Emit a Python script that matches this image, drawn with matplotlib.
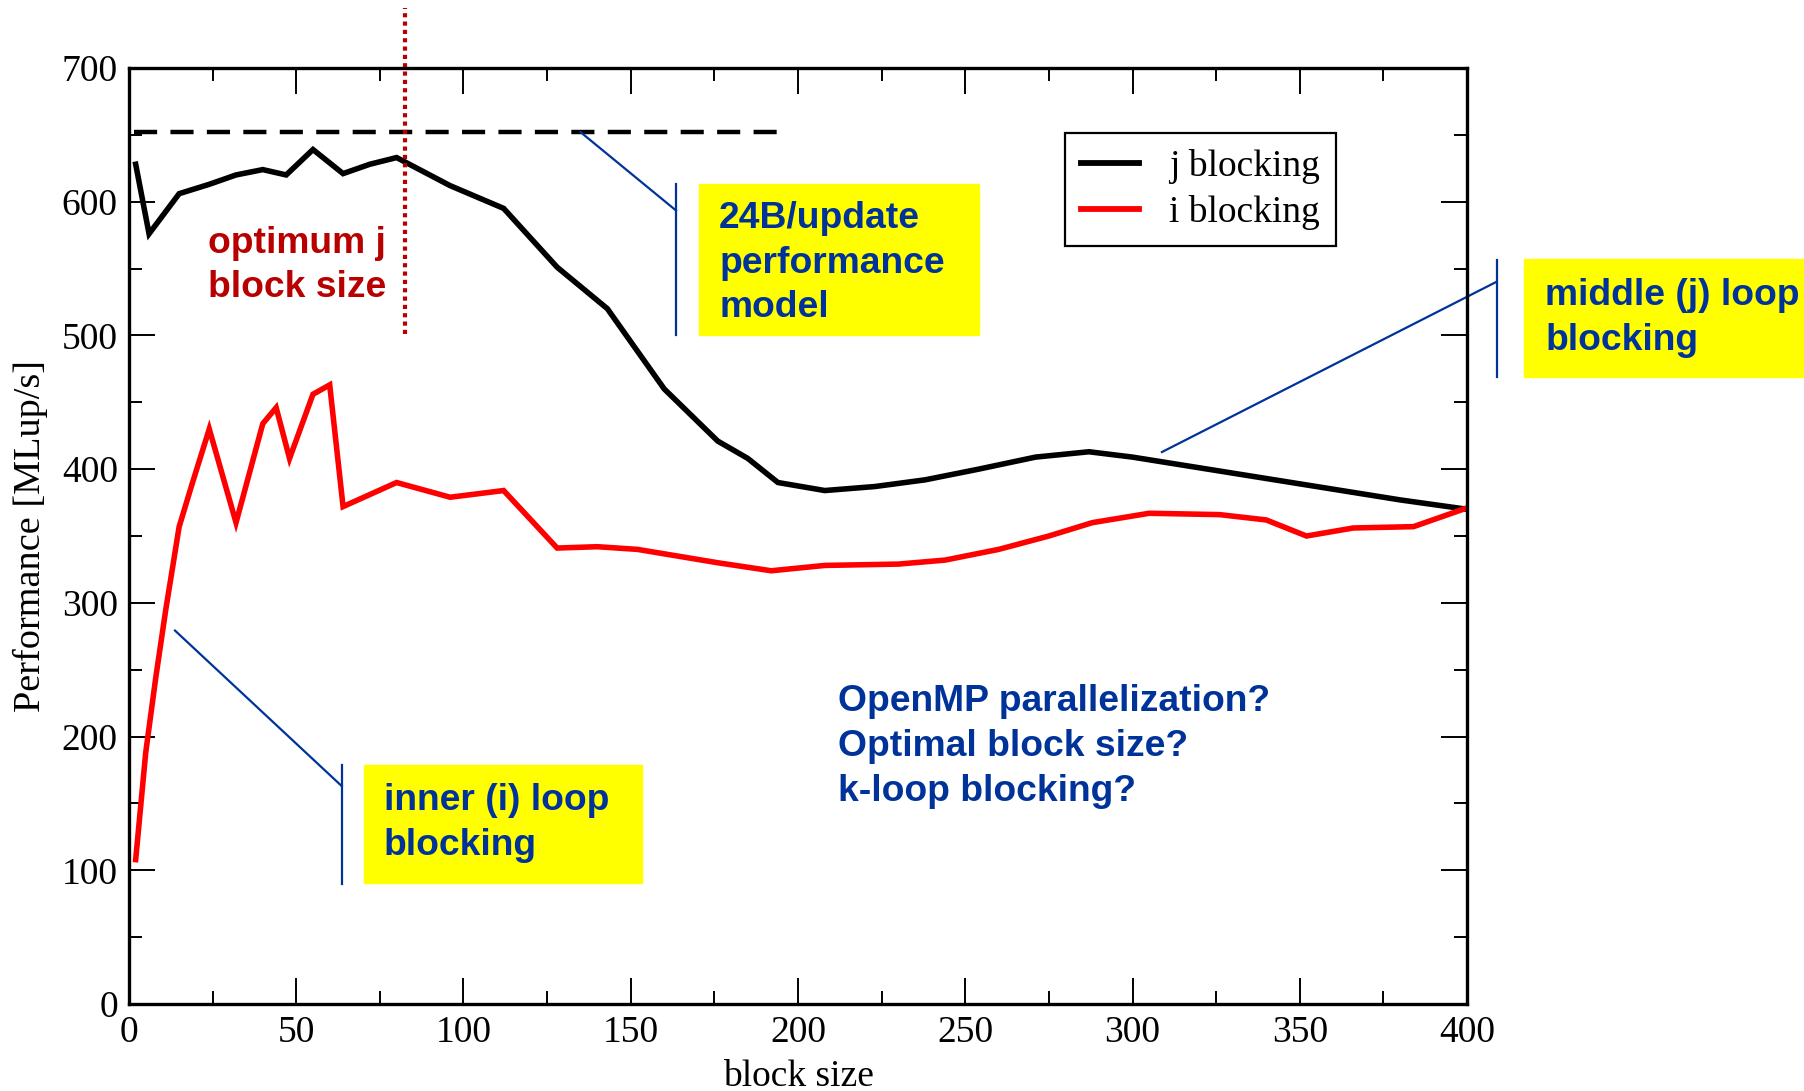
import matplotlib.pyplot as plt
from matplotlib.patches import Rectangle

# block size sweep
j_size = [2, 6, 15, 24, 32, 40, 47, 55, 64, 72, 80, 96, 112, 128, 143, 160,
          176, 185, 194, 208, 223, 238, 254, 271, 287, 300, 320, 340, 360, 380, 400]
j_perf = [628, 576, 606, 613, 620, 624, 620, 639, 621, 628, 633, 612, 595, 551, 520, 460,
          421, 408, 390, 384, 387, 392, 400, 409, 413, 409, 401, 393, 385, 377, 370]

i_size = [2, 5, 8, 11, 15, 19, 24, 32, 40, 44, 48, 55, 60, 64, 80, 96, 112, 128, 140,
          152, 176, 192, 208, 230, 244, 260, 275, 288, 305, 326, 340, 352, 366, 384, 400]
i_perf = [108, 188, 244, 295, 357, 390, 430, 360, 434, 446, 408, 456, 463, 372, 390, 379,
          384, 341, 342, 340, 330, 324, 328, 329, 332, 340, 350, 360, 367, 366, 362, 350,
          356, 357, 371]

model_perf = 652      # 24B/update model
model_span = [1.5, 196]
optimum_j = 82.5

x_ticks = [0, 50, 100, 150, 200, 250, 300, 350, 400]
y_ticks = [0, 100, 200, 300, 400, 500, 600, 700]

BLUE = "#003399"
DARKRED = "#B80000"
YELLOW = "#FFFF00"
SANS = ["Liberation Sans", "DejaVu Sans"]
SERIF = ["Liberation Serif", "DejaVu Serif"]
FS = 26.8
LS = 1.36

fig = plt.figure(figsize=(18.04, 10.91), dpi=100)
ax = fig.add_axes([0.0715, 0.0797, 0.7417, 0.858])

ax.plot(j_size, j_perf, color="black", lw=4.0, label="j blocking", solid_joinstyle="miter")
ax.plot(i_size, i_perf, color="red", lw=4.0, label="i blocking", solid_joinstyle="miter")

ax.plot(model_span, [model_perf, model_perf], color="black", lw=3.2, dashes=(5.2, 3.0))
ax.plot([optimum_j, optimum_j], [501, 745], color=DARKRED, lw=3.0, ls=(0, (1, 1)),
        clip_on=False)

ax.set_xlim(0, 400)
ax.set_ylim(0, 700)
ax.set_xticks(x_ticks)
ax.set_yticks(y_ticks)
ax.set_xticks(range(25, 400, 50), minor=True)
ax.set_yticks(range(50, 700, 100), minor=True)
ax.tick_params(which="both", direction="in", top=True, right=True, width=1.4)
ax.tick_params(which="major", length=18.5, pad=8)
ax.tick_params(which="minor", length=9.5)
for lab in ax.get_xticklabels() + ax.get_yticklabels():
    lab.set_family(SERIF)
    lab.set_fontsize(27)
for s in ax.spines.values():
    s.set_linewidth(2.4)

ax.set_xlabel("block size", family=SERIF, fontsize=27, labelpad=7)
ax.set_ylabel("Performance [MLup/s]", family=SERIF, fontsize=27.5, labelpad=10)

leg = ax.legend(loc="upper left", bbox_to_anchor=(0.6996, 0.9306), borderaxespad=0,
                prop={"family": SERIF, "size": 27}, fancybox=False, framealpha=1,
                edgecolor="black", handlelength=1.55, handletextpad=0.8,
                borderpad=0.42, labelspacing=0.3)
leg.get_frame().set_linewidth(1.6)
for h in leg.get_lines():
    h.set_linewidth(4.2)

# annotations
ax.text(23.6, 582, "optimum j\nblock size", color=DARKRED, family=SANS, weight="bold",
        fontsize=FS, va="top", ha="left", linespacing=LS)

ax.add_patch(Rectangle((170.4, 500.3), 83.7, 113, color=YELLOW, clip_on=False, zorder=3))
ax.text(176.4, 600.5, "24B/update\nperformance\nmodel", color=BLUE, family=SANS,
        weight="bold", fontsize=FS, va="top", ha="left", linespacing=LS, zorder=4)
ax.plot([163.5, 163.5], [500.3, 613.3], color=BLUE, lw=1.6, clip_on=False)
ax.plot([163.5, 135], [593.5, 652], color=BLUE, lw=1.6, clip_on=False)

ax.add_patch(Rectangle((70.3, 90.5), 83.1, 88.2, color=YELLOW, clip_on=False, zorder=3))
ax.text(76.2, 165, "inner (i) loop\nblocking", color=BLUE, family=SANS,
        weight="bold", fontsize=FS, va="top", ha="left", linespacing=LS, zorder=4)
ax.plot([63.6, 63.6], [89.7, 178.7], color=BLUE, lw=1.6, clip_on=False)
ax.plot([63.6, 13.75], [163, 279.3], color=BLUE, lw=1.6, clip_on=False)

ax.add_patch(Rectangle((417.1, 468.7), 100, 88.3, color=YELLOW, clip_on=False, zorder=3))
ax.text(423.4, 543, "middle (j) loop\nblocking", color=BLUE, family=SANS,
        weight="bold", fontsize=FS, va="top", ha="left", linespacing=LS, zorder=4,
        clip_on=False)
ax.plot([408.9, 408.9], [468.7, 556.4], color=BLUE, lw=1.6, clip_on=False)
ax.plot([408.9, 308.8], [540.2, 412.8], color=BLUE, lw=1.6, clip_on=False)

ax.text(212, 239, "OpenMP parallelization?\nOptimal block size?\nk-loop blocking?",
        color=BLUE, family=SANS, weight="bold", fontsize=FS, va="top", ha="left",
        linespacing=LS)

fig.savefig("out.png", dpi=100)
